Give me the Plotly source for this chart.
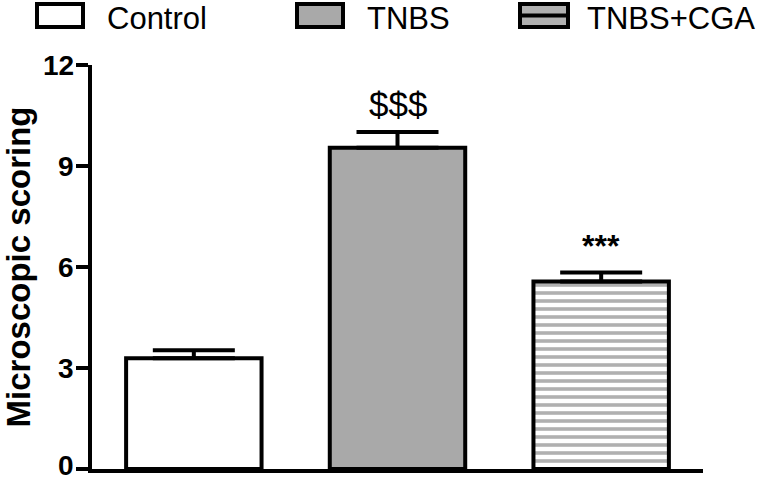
import plotly.graph_objects as go

# ---- data ----
groups = ["Control", "TNBS", "TNBS+CGA"]
means = [3.29, 9.54, 5.57]
sems = [0.24, 0.47, 0.27]
sig_labels = ["", "$$$", "***"]
y_ticks = [0, 3, 6, 9, 12]
y_tick_text = ["%d" % v for v in y_ticks]

W, H = 767, 482
L, R, T, B = 92, 64, 65, 13
PW, PH = W - L - R, H - T - B

def px(x):
    return (x - L) / PW

def py(y):
    return (H - B - y) / PH

FONT = "Liberation Sans, Arial, sans-serif"

fig = go.Figure()
fig.add_trace(go.Bar(
    x=groups, y=means,
    marker=dict(
        color=["white", "#a9a9a9", "#b0b0b0"],
        line=dict(color="black", width=4),
        pattern=dict(shape=["", "", "-"], fgcolor="black", bgcolor=["white", "#a9a9a9", "#b0b0b0"],
                     size=8, solidity=0.45, fillmode="replace"),
    ),
    error_y=dict(type="data", array=sems, arrayminus=[0] * len(sems), symmetric=False,
                 color="black", thickness=4, width=41),
    showlegend=False,
))

annotations = []
for g, m, s, lab in zip(groups, means, sems, sig_labels):
    if lab:
        annotations.append(dict(
            x=g, y=m + s, xref="x", yref="y", text="<b>%s</b>" % lab if lab == "***" else lab,
            showarrow=False, yanchor="bottom", yshift=6,
            font=dict(family=FONT, size=35 if lab == "$$$" else 32, color="black"),
        ))

# y tick labels (bold), placed on the y axis scale
for v, t in zip(y_ticks, y_tick_text):
    annotations.append(dict(
        x=px(75), y=v, xref="paper", yref="y", text="<b>%s</b>" % t, showarrow=False,
        xanchor="right", yanchor="middle", borderpad=0, yshift=4 if v == 0 else 0,
        font=dict(family=FONT, size=28, color="black"),
    ))

# manual legend
shapes = []
legend_items = [
    # (box left, box right, text left, fill, striped)
    (37, 83, 106, "white", False),
    (297, 343, 366, "#a9a9a9", False),
    (520, 568, 586, "#b0b0b0", True),
]
for (bl, br, tl, fill, striped), name in zip(legend_items, groups):
    shapes.append(dict(type="rect", xref="paper", yref="paper",
                       x0=px(bl), x1=px(br), y0=py(27), y1=py(4),
                       fillcolor=fill, line=dict(color="black", width=4)))
    if striped:
        shapes.append(dict(type="line", xref="paper", yref="paper",
                           x0=px(bl), x1=px(br), y0=py(15.5), y1=py(15.5),
                           line=dict(color="black", width=4)))
    annotations.append(dict(x=px(tl), y=py(0), xref="paper", yref="paper",
                            xanchor="left", yanchor="top", text=name, showarrow=False,
                            borderpad=0,
                            font=dict(family=FONT, size=31, color="black")))

fig.update_layout(
    width=W, height=H,
    margin=dict(l=L, r=R, t=T, b=B),
    paper_bgcolor="white", plot_bgcolor="white",
    bargap=0.335,
    shapes=shapes,
    annotations=annotations,
    xaxis=dict(range=[-0.5, 2.5], showticklabels=False, ticks="", showline=True,
               linecolor="black", linewidth=4, showgrid=False, zeroline=False,
               automargin=False),
    yaxis=dict(range=[0, 12], tickvals=y_ticks, showticklabels=False, ticks="outside",
               ticklen=12, tickwidth=4, tickcolor="black", showline=True,
               linecolor="black", linewidth=4, showgrid=False, zeroline=False,
               automargin=False,
               title=dict(text="<b>Microscopic scoring</b>", standoff=42,
                          font=dict(family=FONT, size=33, color="black"))),
)

fig.write_html("out.html", config={"displayModeBar": False},
               post_script="document.body.style.margin='0';document.body.style.overflow='hidden';")
